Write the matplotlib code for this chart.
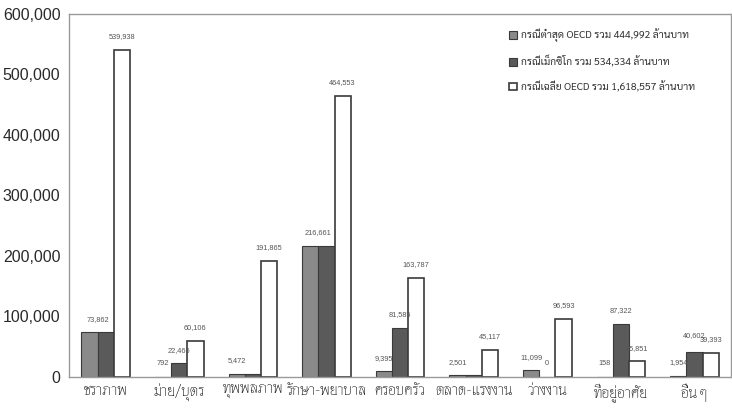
import matplotlib
matplotlib.use("Agg")
import matplotlib.pyplot as plt
import numpy as np

CATEGORIES = ["ชราภาพ", "ม่าย/บุตร", "ทุพพลภาพ", "รักษา-พยาบาล", "ครอบครัว",
              "ตลาด-แรงงาน", "ว่างงาน", "ที่อยู่อาศัย", "อื่น ๆ"]
LOW_OECD = [73862, 792, 5472, 216661, 9395, 2501, 11099, 158, 1954]
MEXICO = [73862, 22466, 5472, 216661, 81585, 2501, 0, 87322, 40602]
AVG_OECD = [539938, 60106, 191865, 464553, 163787, 45117, 96593, 25851, 39393]

LOW_LABELS = ["", "792", "5,472", "", "9,395", "2,501", "11,099", "158", "1,954"]
MEX_LABELS = ["", "22,466", "", "", "81,585", "", "0", "87,322", "40,602"]
AVG_LABELS = ["539,938", "60,106", "191,865", "464,553", "163,787", "45,117",
              "96,593", "25,851", "39,393"]
# labels shared by the low and Mexico bars (same value)
SHARED_LABELS = ["73,862", "", "", "216,661", "", "", "", "", ""]

LEGEND_LABELS = [
    "กรณีต่ำสุด OECD รวม 444,992 ล้านบาท",
    "กรณีเม็กซิโก รวม 534,334 ล้านบาท",
    "กรณีเฉลี่ย OECD รวม 1,618,557 ล้านบาท",
]

THAI_AXIS = ["Thasadith", "DejaVu Sans"]
THAI_LEGEND = ["Sarabun", "DejaVu Sans"]
plt.rcParams["font.family"] = ["Liberation Sans", "DejaVu Sans"]

fig = plt.figure(figsize=(7.32, 4.08), dpi=100)
ax = fig.add_axes([0.094, 0.076, 0.905, 0.89])

x = np.arange(len(CATEGORIES))
w = 0.22
edge = "#3a3a3a"
b1 = ax.bar(x - w, LOW_OECD, w, color="#8a8a8a", edgecolor=edge, linewidth=0.8)
b2 = ax.bar(x, MEXICO, w, color="#5a5a5a", edgecolor=edge, linewidth=0.8)
b3 = ax.bar(x + w, AVG_OECD, w, color="white", edgecolor=edge, linewidth=1.2)


def put_label(xpos, val, text, extra=0.0):
    ax.annotate(text, (xpos, val), xytext=(0, 9.5 + extra), textcoords="offset points",
                ha="center", va="center", fontsize=5.3, color="#555555")


for i in range(len(CATEGORIES)):
    if LOW_LABELS[i]:
        put_label(x[i] - w, LOW_OECD[i], LOW_LABELS[i])
    if MEX_LABELS[i]:
        # lift the Mexico label a little when it sits next to a similar white bar
        lift = 3 if AVG_LABELS[i] and abs(MEXICO[i] - AVG_OECD[i]) < 15000 else 0
        put_label(x[i], MEXICO[i], MEX_LABELS[i], lift)
    if SHARED_LABELS[i]:
        put_label(x[i] - w / 2, max(LOW_OECD[i], MEXICO[i]), SHARED_LABELS[i])
    put_label(x[i] + w, AVG_OECD[i], AVG_LABELS[i])

ax.set_xlim(-0.5, len(CATEGORIES) - 0.5)
ax.set_ylim(0, 600000)
yt = np.arange(0, 600001, 100000)
ax.set_yticks(yt)
ax.set_yticklabels([f"{v:,}" for v in yt], fontsize=11.5, color="#2a2a2a")
ax.set_xticks(x)
ax.set_xticklabels(CATEGORIES, family=THAI_AXIS, fontsize=11, color="#111111")
ax.tick_params(axis="both", length=0)
ax.tick_params(axis="y", pad=6)
ax.tick_params(axis="x", pad=5)

for s in ["left", "top", "bottom", "right"]:
    ax.spines[s].set_color("#9a9a9a")
    ax.spines[s].set_linewidth(1.0)

leg = ax.legend([b1, b2, b3], LEGEND_LABELS, loc="upper right",
                bbox_to_anchor=(0.96, 0.985), frameon=False,
                prop={"family": THAI_LEGEND, "size": 7.5}, handlelength=0.7,
                handleheight=0.7, labelspacing=1.25, handletextpad=0.45)
for t in leg.get_texts():
    t.set_color("#333333")

fig.savefig("out.png", dpi=100)
